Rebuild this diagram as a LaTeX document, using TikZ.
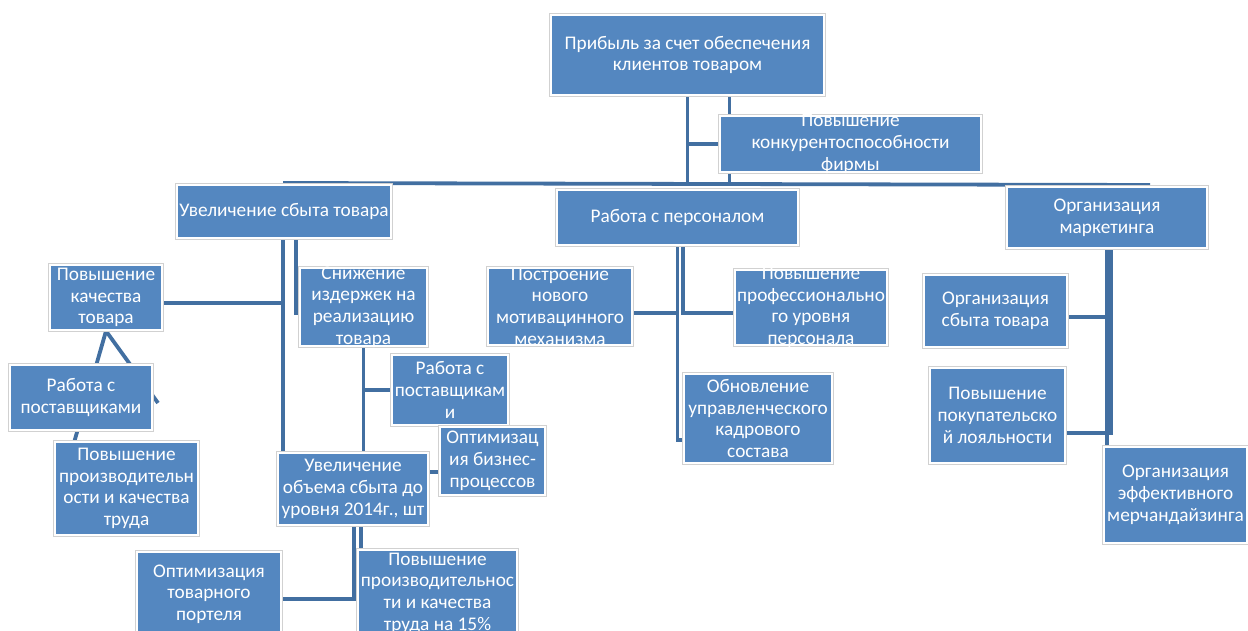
\documentclass[tikz,border=0pt]{standalone}
\usepackage{fontspec}
\setmainfont{Carlito}
\usetikzlibrary{backgrounds}
\definecolor{boxblue}{RGB}{84,135,192}
\definecolor{lineblue}{RGB}{66,111,161}
\newcommand\boxfont{\fontsize{19.3}{21.7}\selectfont}
\tikzset{
	box/.style 2 args={rectangle, fill=boxblue, draw=white, line width=2pt,
		preaction={draw=black!18, line width=3.5pt},
		minimum width=#1pt, minimum height=#2pt, inner sep=0pt},
	boxtext/.style={text=white, align=center, font=\boxfont, inner sep=0pt},
	conn/.style={draw=lineblue, line width=3.8pt}
}
\begin{document}
\begin{tikzpicture}[x=1pt,y=-1pt]
	\useasboundingbox (0,0) rectangle (1248,631);
	\node[box={273}{80}, label={[boxtext]center:Прибыль за счет обеспечения\\клиентов товаром}] at (687.5,55) (top) {};
	\node[box={261}{56}, label={[boxtext]center:Повышение\\конкурентоспособности\\фирмы}] at (850.5,144) (compet) {};
	\node[box={214}{53}, label={[boxtext]center:Увеличение сбыта товара}] at (284,211.5) (sales) {};
	\node[box={241}{55}, label={[boxtext]center:Работа с персоналом}] at (677.5,217.5) (staff) {};
	\node[box={200}{61}, label={[boxtext]center:Организация\\маркетинга}] at (1107,217.5) (mkt) {};
	\node[box={112}{65}, label={[boxtext]center:Повышение\\качества\\товара}] at (106,297.5) (quality) {};
	\node[box={127}{78}, label={[boxtext]center:Снижение\\издержек на\\реализацию\\товара}] at (363.5,307) (costs) {};
	\node[box={142}{65}, label={[boxtext]center:Работа с\\поставщиками}] at (81,397.5) (supplyL) {};
	\node[box={143}{93}, label={[boxtext]center:Повышение\\производительн\\ости и качества\\труда}] at (126.5,488.5) (prodL) {};
	\node[box={116}{70}, label={[boxtext]center:Работа с\\поставщикам\\и}] at (450,390) (supplyM) {};
	\node[box={105}{68}, label={[boxtext]center:Оптимизац\\ия бизнес-\\процессов}] at (492.5,461) (bizproc) {};
	\node[box={150}{72}, label={[boxtext]center:Увеличение\\объема сбыта до\\уровня 2014г., шт}] at (353,489) (volume) {};
	\node[box={144}{84}, label={[boxtext]center:Оптимизация\\товарного\\портеля}] at (209,594) (portfolio) {};
	\node[box={159}{86}, label={[boxtext]center:Повышение\\производительнос\\ти и качества\\труда на 15\%}] at (437.5,593) (prod15) {};
	\node[box={144}{77}, label={[boxtext]center:Построение\\нового\\мотивацинного\\механизма}] at (560,306.5) (build) {};
	\node[box={152}{75}, label={[boxtext]center:Повышение\\профессионально\\го уровня\\персонала}] at (811,307.5) (prof) {};
	\node[box={148}{89}, label={[boxtext]center:Обновление\\управленческого\\кадрового\\состава}] at (758,418.5) (renew) {};
	\node[box={143}{72}, label={[boxtext]center:Организация\\сбыта товара}] at (995.5,311) (salesorg) {};
	\node[box={135}{95}, label={[boxtext]center:Повышение\\покупательско\\й лояльности}] at (997.5,415.5) (loyal) {};
	\node[box={143}{96}, label={[boxtext]center:Организация\\эффективного\\мерчандайзинга}] at (1175.5,495) (merch) {};
	\coordinate (busL) at (283,183);
	\coordinate (busR) at (1150,185);
	\begin{scope}[on background layer]
	\draw[conn] (busL) -- (busR);
	\draw[conn] (top.south) -- (top.south |- busL);
	\draw[conn] (top.south |- compet.west) -- (compet.west);
	\draw[conn] ([xshift=42pt]top.south) -- ([xshift=42pt]top.south |- busL);
	\draw[conn] ([xshift=-1pt]sales.south) -- ([xshift=-1pt]sales.south |- volume.north);
	\draw[conn] ([xshift=12pt]sales.south) |- ([yshift=-6pt]costs.west);
	\draw[conn] ([yshift=-5.5pt]quality.east) -- ([yshift=-5.5pt]quality.east -| busL);
	\draw[conn] (quality.south) -- ([xshift=-52pt]prodL.north);
	\draw[conn] (quality.south) -- ([xshift=5pt,yshift=-5.5pt]supplyL.east);
	\draw[conn] (costs.south) -- (costs.south |- volume.north);
	\draw[conn] (costs.south |- supplyM.west) -- (supplyM.west);
	\draw[conn] ([yshift=-11pt]bizproc.west) -- ([yshift=-11pt]bizproc.west -| volume.east);
	\draw[conn] ([xshift=1pt]volume.south) |- ([yshift=-5pt]portfolio.east);
	\draw[conn] ([xshift=8pt]volume.south) -- ([xshift=8pt]volume.south |- prod15.north);
	\draw[conn] ([xshift=5.5pt]staff.south) |- ([yshift=-5.5pt]prof.west);
	\draw[conn] (staff.south) |- ([yshift=-21.5pt]renew.west);
	\draw[conn] ([yshift=-6.5pt]build.east) -- ([yshift=-6.5pt]build.east -| staff.south);
	\draw[conn] (mkt.south) -- (mkt.south |- merch.north);
	\draw[conn] ([xshift=4pt]mkt.south) |- ([yshift=-17.5pt]loyal.east);
	\draw[conn] ([yshift=-6pt]salesorg.east) -- ([yshift=-6pt]salesorg.east -| mkt.south);
	\end{scope}
\end{tikzpicture}
\end{document}
